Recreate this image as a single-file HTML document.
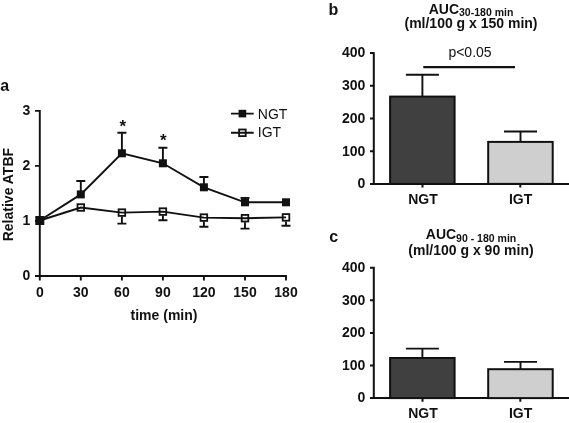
<!DOCTYPE html>
<html><head><meta charset="utf-8"><style>
html,body{margin:0;padding:0;background:#fff;}
svg{display:block;will-change:transform;}
text{font-family:"Liberation Sans", sans-serif;fill:#111;}
.b{font-weight:bold;font-size:14px;}
.r{font-size:14px;}
.p{font-weight:bold;font-size:16px;}
</style></head><body>
<svg width="569" height="423" viewBox="0 0 569 423">
<path d="M39.8 110.0V280.5M35 110.9H39.8M35 221.0H39.8M35 165.9H39.8M35 276.0H286.9" stroke="#111" stroke-width="1.9" fill="none"/>
<path d="M80.8 276.0V280.5M121.9 276.0V280.5M162.9 276.0V280.5M203.9 276.0V280.5M245.0 276.0V280.5M286.0 276.0V280.5" stroke="#111" stroke-width="1.9" fill="none"/>
<text x="30.4" y="280.0" text-anchor="end" class="b">0</text>
<text x="30.4" y="225.0" text-anchor="end" class="b">1</text>
<text x="30.4" y="169.9" text-anchor="end" class="b">2</text>
<text x="30.4" y="114.9" text-anchor="end" class="b">3</text>
<text x="39.8" y="297" text-anchor="middle" class="b">0</text>
<text x="80.8" y="297" text-anchor="middle" class="b">30</text>
<text x="121.9" y="297" text-anchor="middle" class="b">60</text>
<text x="162.9" y="297" text-anchor="middle" class="b">90</text>
<text x="203.9" y="297" text-anchor="middle" class="b">120</text>
<text x="245.0" y="297" text-anchor="middle" class="b">150</text>
<text x="286.0" y="297" text-anchor="middle" class="b">180</text>
<text x="164" y="320.3" text-anchor="middle" class="b">time (min)</text>
<text transform="translate(12.8 194.6) rotate(-90)" text-anchor="middle" class="b">Relative ATBF</text>
<text x="0.2" y="91.3" class="p">a</text>
<path d="M80.8 194.4V181.0M76.3 181.0H85.3M121.9 153.3V132.7M117.4 132.7H126.4M162.9 163.3V147.8M158.4 147.8H167.4M203.9 187.3V177.0M199.4 177.0H208.4M245.0 202.3V197.9M240.5 197.9H249.5M121.9 216.6V223.6M117.4 223.6H126.4M162.9 215.6V220.2M158.4 220.2H167.4M203.9 221.6V226.7M199.4 226.7H208.4M245.0 222.2V228.6M240.5 228.6H249.5M286.0 221.4V225.8M281.5 225.8H290.5" stroke="#111" stroke-width="1.9" fill="none"/>
<polyline points="39.8,220.5 80.8,194.4 121.9,153.3 162.9,163.3 203.9,187.3 245.0,202.3 286.0,202.3" stroke="#111" stroke-width="1.9" fill="none"/>
<polyline points="39.8,220.5 80.8,207.5 121.9,212.6 162.9,211.6 203.9,217.6 245.0,218.2 286.0,217.4" stroke="#111" stroke-width="1.9" fill="none"/>
<rect x="77.5" y="204.2" width="6.6" height="6.6" stroke="#111" stroke-width="1.8" fill="none"/>
<rect x="118.6" y="209.3" width="6.6" height="6.6" stroke="#111" stroke-width="1.8" fill="none"/>
<rect x="159.6" y="208.3" width="6.6" height="6.6" stroke="#111" stroke-width="1.8" fill="none"/>
<rect x="200.6" y="214.3" width="6.6" height="6.6" stroke="#111" stroke-width="1.8" fill="none"/>
<rect x="241.7" y="214.9" width="6.6" height="6.6" stroke="#111" stroke-width="1.8" fill="none"/>
<rect x="282.7" y="214.1" width="6.6" height="6.6" stroke="#111" stroke-width="1.8" fill="none"/>
<rect x="35.3" y="216.0" width="9.0" height="9.0" fill="#111"/>
<rect x="76.8" y="190.4" width="8.0" height="8.0" fill="#111"/>
<rect x="117.9" y="149.3" width="8.0" height="8.0" fill="#111"/>
<rect x="158.9" y="159.3" width="8.0" height="8.0" fill="#111"/>
<rect x="199.9" y="183.3" width="8.0" height="8.0" fill="#111"/>
<rect x="241.0" y="198.3" width="8.0" height="8.0" fill="#111"/>
<rect x="282.0" y="198.3" width="8.0" height="8.0" fill="#111"/>
<text x="122.8" y="131.5" text-anchor="middle" class="b" style="font-size:17px">*</text>
<text x="163.2" y="146" text-anchor="middle" class="b" style="font-size:17px">*</text>
<path d="M231 113.6H253.7M231 132.7H253.7" stroke="#111" stroke-width="1.9"/>
<rect x="238.6" y="109.8" width="7.6" height="7.6" fill="#111"/>
<rect x="239.1" y="129.5" width="6.6" height="6.6" stroke="#111" stroke-width="1.8" fill="none"/>
<text x="257.8" y="119" class="r">NGT</text>
<text x="257.8" y="137.4" class="r">IGT</text>
<path d="M373.8 52.2V183.9M569 183.9H372.90000000000003M370 151.2H373.8M370 118.5H373.8M370 85.8H373.8M370 53.1H373.8M370 183.9H373.8M422.5 183.9V187.5M520.3 183.9V187.5" stroke="#111" stroke-width="2" fill="none"/>
<text x="365.3" y="188.2" text-anchor="end" class="b">0</text>
<text x="365.3" y="155.5" text-anchor="end" class="b">100</text>
<text x="365.3" y="122.8" text-anchor="end" class="b">200</text>
<text x="365.3" y="90.1" text-anchor="end" class="b">300</text>
<text x="365.3" y="57.4" text-anchor="end" class="b">400</text>
<path d="M422.4 96.6V74.7M405.9 74.7H438.9" stroke="#111" stroke-width="1.9" fill="none"/>
<rect x="390.1" y="96.6" width="64.5" height="87.3" fill="#404040" stroke="#111" stroke-width="2"/>
<path d="M520.5 141.9V131.5M504.0 131.5H537.0" stroke="#111" stroke-width="1.9" fill="none"/>
<rect x="488.2" y="141.9" width="64.5" height="42.0" fill="#cfcfcf" stroke="#111" stroke-width="2"/>
<text x="423" y="204.1" text-anchor="middle" class="b">NGT</text>
<text x="520.6" y="204.1" text-anchor="middle" class="b">IGT</text>
<text x="328.6" y="14.9" class="p">b</text>
<text x="471" y="13.5" text-anchor="middle" class="b">AUC<tspan style="font-size:10.5px" dy="2.6">30-180 min</tspan></text>
<text x="471" y="28.4" text-anchor="middle" class="b">(ml/100 g x 150 min)</text>
<path d="M423.3 67.1H515" stroke="#111" stroke-width="2.1"/>
<text x="470" y="57" text-anchor="middle" class="r">p&lt;0.05</text>
<path d="M373.8 266.8V398.1M569 398.1H372.90000000000003M370 365.5H373.8M370 332.9H373.8M370 300.3H373.8M370 267.7H373.8M370 398.1H373.8M422.5 398.1V401.7M520.3 398.1V401.7" stroke="#111" stroke-width="2" fill="none"/>
<text x="365.3" y="402.4" text-anchor="end" class="b">0</text>
<text x="365.3" y="369.8" text-anchor="end" class="b">100</text>
<text x="365.3" y="337.2" text-anchor="end" class="b">200</text>
<text x="365.3" y="304.6" text-anchor="end" class="b">300</text>
<text x="365.3" y="272.0" text-anchor="end" class="b">400</text>
<path d="M422.4 358.0V348.6M405.9 348.6H438.9" stroke="#111" stroke-width="1.9" fill="none"/>
<rect x="390.1" y="358.0" width="64.5" height="40.1" fill="#404040" stroke="#111" stroke-width="2"/>
<path d="M520.5 369.2V361.9M504.0 361.9H537.0" stroke="#111" stroke-width="1.9" fill="none"/>
<rect x="488.2" y="369.2" width="64.5" height="28.9" fill="#cfcfcf" stroke="#111" stroke-width="2"/>
<text x="423" y="418.3" text-anchor="middle" class="b">NGT</text>
<text x="520.6" y="418.3" text-anchor="middle" class="b">IGT</text>
<text x="329.3" y="241.5" class="p">c</text>
<text x="471" y="238.6" text-anchor="middle" class="b">AUC<tspan style="font-size:10.5px" dy="3.2">90 - 180 min</tspan></text>
<text x="471" y="254.6" text-anchor="middle" class="b">(ml/100 g x 90 min)</text>
</svg>
</body></html>
